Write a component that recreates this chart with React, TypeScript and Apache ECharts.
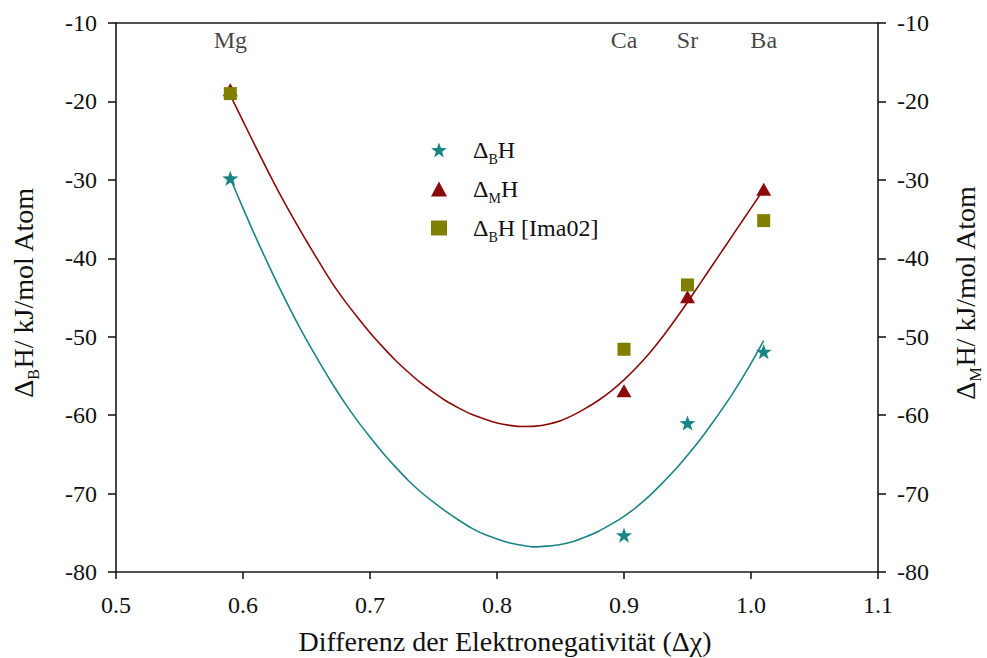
import React, { useEffect, useRef } from "react";
import * as echarts from "echarts";

// ---- data ----
const elements = ["Mg", "Ca", "Sr", "Ba"];
const deltaChi = [0.59, 0.9, 0.95, 1.01];
const dBH = [-29.8, -75.3, -61.0, -51.9];
const dMH = [-18.5, -56.9, -44.9, -31.2];
const dBHIma02 = [-19.0, -51.6, -43.4, -35.2];

// fitted curves at 0.01 steps
const fitX = [
  0.59, 0.6, 0.61, 0.62, 0.63, 0.64, 0.65, 0.66, 0.67, 0.68, 0.69, 0.7, 0.71, 0.72, 0.73, 0.74, 0.75,
  0.76, 0.77, 0.78, 0.79, 0.8, 0.81, 0.82, 0.83, 0.84, 0.85, 0.86, 0.87, 0.88, 0.89, 0.9, 0.91, 0.92,
  0.93, 0.94, 0.95, 0.96, 0.97, 0.98, 0.99, 1.0, 1.01,
];
const fitBH = [
  -29.8, -33.6, -37.3, -40.8, -44.2, -47.4, -50.4, -53.2, -55.9, -58.4, -60.7, -62.8, -64.8, -66.6,
  -68.3, -69.8, -71.1, -72.3, -73.4, -74.4, -75.2, -75.8, -76.3, -76.6, -76.8, -76.7, -76.5, -76.1,
  -75.5, -74.8, -73.9, -72.9, -71.7, -70.3, -68.7, -67.0, -65.1, -63.1, -60.9, -58.6, -56.1, -53.4,
  -50.5,
];
const fitMH = [
  -19.2, -22.5, -25.8, -29.0, -32.1, -35.0, -37.8, -40.5, -43.1, -45.4, -47.5, -49.5, -51.3, -53.0,
  -54.5, -55.9, -57.1, -58.2, -59.1, -59.9, -60.5, -61.0, -61.3, -61.45, -61.4, -61.15, -60.7, -60.0,
  -59.1, -58.1, -56.9, -55.5, -53.9, -52.1, -50.1, -47.9, -45.6, -43.2, -40.8, -38.4, -36.0, -33.6,
  -31.2,
];

const elementLabelY = -12.2;
const seriesNames = ["ΔBH", "ΔMH", "ΔBH [Ima02]"];
const legendRich: Record<string, string> = {
  "ΔBH": "{m|Δ}{s|B}{m|H}",
  "ΔMH": "{m|Δ}{s|M}{m|H}",
  "ΔBH [Ima02]": "{m|Δ}{s|B}{m|H [Ima02]}",
};

const SERIF = "'Liberation Serif', 'Times New Roman', serif";
const TEAL = "#1a8585";
const RED = "#8b0a0a";
const OLIVE = "#808000";
const AXIS = "#1a1a1a";
const STAR =
  "path://M0,-10L2.35,-3.24L9.51,-3.09L3.8,1.24L5.88,8.09L0,4L-5.88,8.09L-3.8,1.24L-9.51,-3.09L-2.35,-3.24Z";

const richFor = (main: number, sub: number) => ({
  m: {
    fontSize: main,
    fontFamily: SERIF,
    color: "#111",
    lineHeight: main + 8,
    verticalAlign: "middle",
  },
  s: {
    fontSize: sub,
    fontFamily: SERIF,
    color: "#111",
    lineHeight: sub,
    verticalAlign: "bottom",
  },
});

export default function App() {
  const ref = useRef<HTMLDivElement>(null);
  useEffect(() => {
    if (!ref.current) return;
    const chart = echarts.init(ref.current, undefined, { renderer: "svg" });
    const zip = (xs: number[], ys: number[]) => xs.map((x, i) => [x, ys[i]]);
    const yAxisCommon = {
      type: "value",
      min: -80,
      max: -10,
      interval: 10,
      splitLine: { show: false },
      axisLine: { show: true, lineStyle: { color: AXIS, width: 1.6 } },
      axisTick: { show: true, inside: false, length: 8, lineStyle: { color: AXIS, width: 1.6 } },
      axisLabel: { fontFamily: SERIF, fontSize: 24, color: "#111", margin: 19 },
      nameLocation: "middle",
      nameRotate: 90,
    };
    chart.setOption({
      animation: false,
      backgroundColor: "#fff",
      grid: {
        left: 116,
        right: 109,
        top: 23,
        bottom: 86,
        containLabel: false,
        outerBoundsMode: "none",
      },
      legend: {
        data: seriesNames,
        orient: "vertical",
        left: 426,
        top: 133,
        itemWidth: 16,
        itemHeight: 15,
        itemGap: 11,
        formatter: (n: string) => legendRich[n] ?? n,
        textStyle: { padding: [0, 0, 0, 21], rich: richFor(24, 14) },
      },
      xAxis: [
        {
          type: "value",
          min: 0.5,
          max: 1.1,
          interval: 0.1,
          splitLine: { show: false },
          axisLine: { show: true, onZero: false, lineStyle: { color: AXIS, width: 1.6 } },
          axisTick: { show: true, length: 7, lineStyle: { color: AXIS, width: 1.6 } },
          axisLabel: {
            fontFamily: SERIF,
            fontSize: 24,
            color: "#111",
            margin: 21,
            formatter: (v: number) => v.toFixed(1),
          },
          name: "Differenz der Elektronegativität (Δχ)",
          nameLocation: "middle",
          nameGap: 55,
          nameTextStyle: { fontFamily: SERIF, fontSize: 28, color: "#111", padding: [0, 0, 0, 16] },
        },
        {
          type: "value",
          position: "top",
          min: 0.5,
          max: 1.1,
          splitLine: { show: false },
          axisLine: { show: true, onZero: false, lineStyle: { color: AXIS, width: 1.6 } },
          axisTick: { show: false },
          axisLabel: { show: false },
        },
      ],
      yAxis: [
        {
          ...yAxisCommon,
          position: "left",
          name: "{m|Δ}{s|B}{m|H/ kJ/mol Atom}",
          nameGap: 75,
          nameTextStyle: { rich: richFor(28, 16), padding: [0, 0, 0, 10] },
        },
        {
          ...yAxisCommon,
          position: "right",
          name: "{m|Δ}{s|M}{m|H/ kJ/mol Atom}",
          nameGap: 69,
          nameTextStyle: { rich: richFor(28, 16), padding: [0, 0, 0, 10] },
        },
      ],
      series: [
        {
          name: "fitBH",
          type: "line",
          data: zip(fitX, fitBH),
          smooth: 0.3,
          showSymbol: false,
          lineStyle: { color: TEAL, width: 1.6 },
          z: 1,
        },
        {
          name: "fitMH",
          type: "line",
          yAxisIndex: 1,
          data: zip(fitX, fitMH),
          smooth: 0.3,
          showSymbol: false,
          lineStyle: { color: RED, width: 1.6 },
          z: 1,
        },
        {
          name: seriesNames[0],
          type: "scatter",
          data: zip(deltaChi, dBH),
          symbol: STAR,
          symbolKeepAspect: true,
          symbolSize: 16,
          itemStyle: { color: TEAL, opacity: 1 },
          z: 3,
        },
        {
          name: seriesNames[1],
          type: "scatter",
          yAxisIndex: 1,
          data: zip(deltaChi, dMH),
          symbol: "triangle",
          symbolSize: [15, 13],
          itemStyle: { color: RED, opacity: 1 },
          z: 4,
        },
        {
          name: seriesNames[2],
          type: "scatter",
          data: zip(deltaChi, dBHIma02),
          symbol: "rect",
          symbolSize: 13,
          itemStyle: { color: OLIVE, opacity: 1 },
          z: 5,
        },
        {
          name: "elements",
          type: "scatter",
          data: deltaChi.map((x, i) => ({ value: [x, elementLabelY], name: elements[i] })),
          symbolSize: 0,
          silent: true,
          label: {
            show: true,
            position: "inside",
            formatter: (p: any) => p.name,
            fontFamily: SERIF,
            fontSize: 24,
            color: "#111",
          },
          z: 6,
        },
      ],
    });
    return () => chart.dispose();
  }, []);
  return <div ref={ref} style={{ width: 987, height: 658, position: "absolute", left: 0, top: 0 }} />;
}
